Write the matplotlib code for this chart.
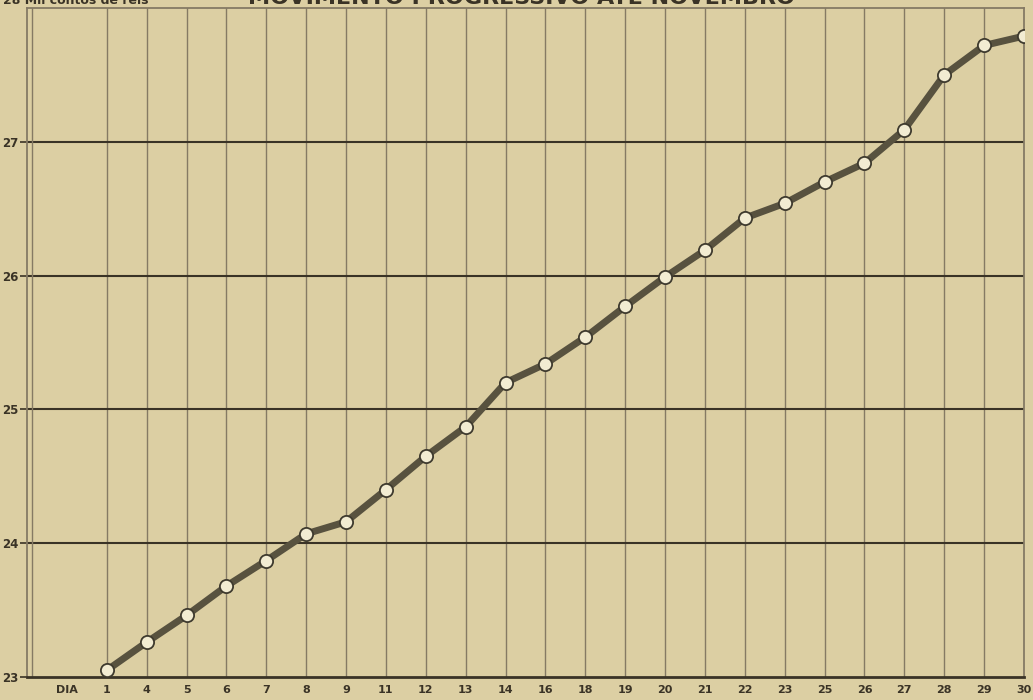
import matplotlib.pyplot as plt

# Movimento diário (mil contos de réis)
DIAS = ["1", "4", "5", "6", "7", "8", "9", "11", "12", "13", "14", "16",
        "18", "19", "20", "21", "22", "23", "25", "26", "27", "28", "29", "30"]
VALORES = [23.05, 23.26, 23.46, 23.68, 23.87, 24.07, 24.16, 24.40, 24.65,
           24.87, 25.20, 25.34, 25.54, 25.77, 25.99, 26.19, 26.43, 26.54,
           26.70, 26.84, 27.09, 27.50, 27.72, 27.79]
Y_TICKS = [23, 24, 25, 26, 27]

PAPER = "#dccfa3"
INK = "#3a3326"
GRID_V = "#857a64"
LINE = "#58523f"

plt.rcParams.update({
    "font.family": "DejaVu Sans",
    "font.weight": "bold",
})

fig = plt.figure(figsize=(10.33, 7.0), dpi=100, facecolor=PAPER)
ax = fig.add_axes([27 / 1033, 23 / 700, 997 / 1033, 669 / 700], facecolor=PAPER)

x = list(range(len(DIAS)))
ax.set_xlim(-2, len(DIAS) - 1)
ax.set_ylim(23, 28)

# quadriculado
for xi in x[:-1]:
    ax.axvline(xi, color=GRID_V, lw=1.0, zorder=1)
for yv in Y_TICKS[1:]:
    ax.axhline(yv, color=INK, lw=1.5, zorder=1)
ax.axvline(-2 + 0.12, color=GRID_V, lw=1.0, zorder=1)

ax.plot(x, VALORES, color=LINE, lw=5.0, solid_capstyle="round", zorder=3,
        marker="o", markersize=9.5, markerfacecolor="#f2ecd2",
        markeredgecolor="#3e3a2e", markeredgewidth=1.3)

for side in ("left", "right", "top"):
    ax.spines[side].set_color(GRID_V)
    ax.spines[side].set_linewidth(1.3)
ax.spines["bottom"].set_color(INK)
ax.spines["bottom"].set_linewidth(2.0)

ax.set_yticks(Y_TICKS)
ax.set_yticklabels([str(v) for v in Y_TICKS], fontsize=8.5, color=INK)
ax.tick_params(axis="y", length=5, width=1.2, color=INK, pad=1)

ax.set_xticks([-1] + x)
ax.set_xticklabels(["DIA"] + DIAS, fontsize=8, color=INK)
ax.tick_params(axis="x", length=0, pad=6)

# cabeçalho
fig.text(3 / 1033, 1 - 4 / 700, "28 Mil contos de réis", fontsize=9,
         color=INK, ha="left", va="baseline")
fig.text(521 / 1033, 1 - 4 / 700, "MOVIMENTO PROGRESSIVO ATÉ NOVEMBRO",
         fontsize=16, color=INK, ha="center", va="baseline")

fig.savefig("out.png", dpi=100, facecolor=PAPER)
